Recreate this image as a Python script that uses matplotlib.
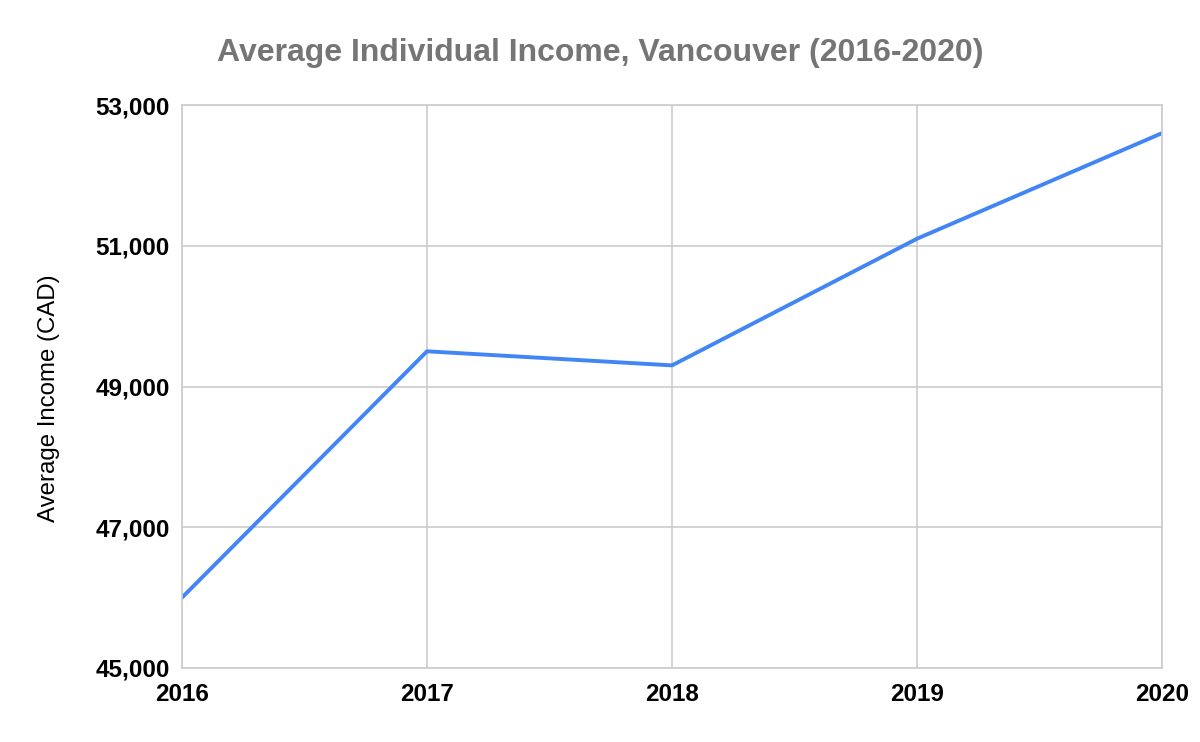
import matplotlib
matplotlib.use("Agg")
import matplotlib.pyplot as plt
from matplotlib.ticker import FuncFormatter

years = [2016, 2017, 2018, 2019, 2020]
income = [46000, 49500, 49300, 51100, 52600]
y_ticks = [45000, 47000, 49000, 51000, 53000]

plt.rcParams['font.family'] = ['Liberation Sans', 'DejaVu Sans']

fig = plt.figure(figsize=(12, 7.42), dpi=100)
ax = fig.add_axes([182/1200, 1-668/742, 980/1200, 563/742])

ax.plot(years, income, color='#4285F4', linewidth=2.8, solid_joinstyle='round')

ax.set_xlim(2016, 2020)
ax.set_ylim(45000, 53000)
ax.set_xticks(years)
ax.set_yticks(y_ticks)
ax.yaxis.set_major_formatter(FuncFormatter(lambda v, p: f"{int(v):,}"))
ax.grid(True, color='#cccccc', linewidth=1.2)
ax.set_axisbelow(True)
for s in ax.spines.values():
    s.set_color('#cccccc')
    s.set_linewidth(1.2)
ax.tick_params(length=0, labelsize=17.5, pad=9)
ax.tick_params(axis='x', pad=11)
for lab in ax.get_xticklabels() + ax.get_yticklabels():
    lab.set_fontweight('bold')

# y label placed in figure coords
fig.text(49/1200, 1-398/742, 'Average Income (CAD)', rotation=90,
         ha='center', va='center', fontsize=17.3)
fig.text(600/1200, 1-53/742, 'Average Individual Income, Vancouver (2016-2020)',
         ha='center', va='center', fontsize=23, fontweight='bold', color='#757575')

fig.savefig('out.png', dpi=100)
